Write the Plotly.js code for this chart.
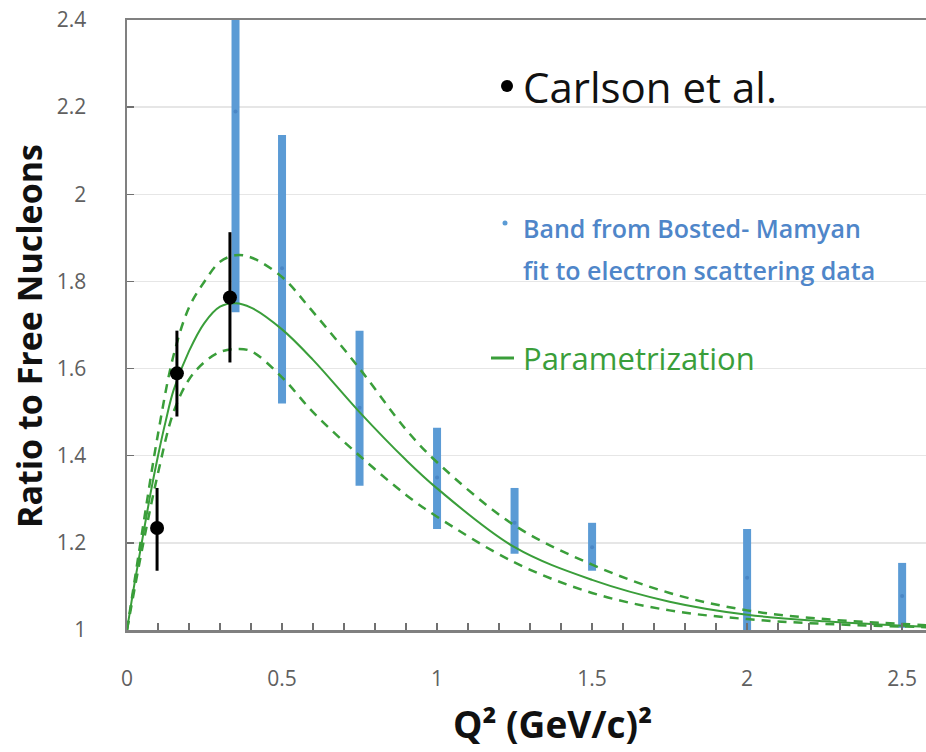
<!DOCTYPE html>
<html><head><meta charset="utf-8">
<script src="https://cdn.plot.ly/plotly-3.0.1.min.js"></script>
<style>html,body{margin:0;padding:0;background:#fff}#chart{width:926px;height:752px}</style>
</head><body><div id="chart"></div>
<script>
// Bosted-Mamyan band (blue)
const bandQ2 = [0.35, 0.5, 0.75, 1.0, 1.25, 1.5, 2.0, 2.5];
const bandMid = [2.19, 1.83, 1.51, 1.35, 1.246, 1.19, 1.12, 1.078];
const bandHigh = [2.65, 2.136, 1.687, 1.464, 1.326, 1.246, 1.232, 1.154];
const bandLow = [1.729, 1.52, 1.331, 1.232, 1.175, 1.136, 1.0, 1.005];

// Carlson et al. points
const carlsonQ2 = [0.097, 0.161, 0.332];
const carlsonY = [1.234, 1.589, 1.763];
const carlsonHigh = [1.326, 1.687, 1.913];
const carlsonLow = [1.136, 1.49, 1.614];

// Parametrization (solid) and its uncertainty (dashed)
const paramQ2 = [0, 0.025, 0.05, 0.075, 0.1, 0.125, 0.15, 0.2, 0.25, 0.3, 0.35, 0.4, 0.5, 0.6, 0.75, 0.9, 1.0, 1.25, 1.5, 1.75, 2.0, 2.25, 2.5, 2.6];
const paramY = [1, 1.11, 1.21, 1.31, 1.40, 1.48, 1.55, 1.64, 1.705, 1.742, 1.75, 1.74, 1.69, 1.62, 1.50, 1.39, 1.325, 1.19, 1.115, 1.065, 1.035, 1.02, 1.01, 1.007];
const bandQ2d = [0, 0.05, 0.1, 0.15, 0.2, 0.25, 0.3, 0.35, 0.4, 0.5, 0.6, 0.75, 0.9, 1.0, 1.25, 1.5, 1.75, 2.0, 2.25, 2.5, 2.6];
const upperY = [1, 1.23, 1.45, 1.63, 1.74, 1.80, 1.845, 1.86, 1.855, 1.81, 1.73, 1.60, 1.46, 1.385, 1.24, 1.15, 1.085, 1.045, 1.025, 1.014, 1.01];
const lowerY = [1, 1.19, 1.36, 1.50, 1.575, 1.615, 1.638, 1.645, 1.64, 1.58, 1.50, 1.40, 1.31, 1.26, 1.155, 1.085, 1.045, 1.025, 1.014, 1.008, 1.006];

const xTicks = [0, 0.5, 1, 1.5, 2, 2.5];
const xTickText = ['0', '0.5', '1', '1.5', '2', '2.5'];
const yTicks = [1, 1.2, 1.4, 1.6, 1.8, 2, 2.2, 2.4];
const yTickText = ['1', '1.2', '1.4', '1.6', '1.8', '2', '2.2', '2.4'];

const blue = '#5b9bd5';
const green = '#3a9e3a';

const traces = [
  {
    x: bandQ2, y: bandMid, type: 'scatter', mode: 'markers',
    marker: {color: '#4a86c5', size: 4},
    error_y: {type: 'data', symmetric: false,
      array: bandHigh.map((v, i) => v - bandMid[i]),
      arrayminus: bandMid.map((v, i) => v - bandLow[i]),
      color: blue, thickness: 8, width: 0},
    showlegend: false
  },
  {
    x: bandQ2d, y: upperY, type: 'scatter', mode: 'lines',
    line: {color: green, width: 2.5, dash: '9px,7px', shape: 'spline'}, showlegend: false
  },
  {
    x: bandQ2d, y: lowerY, type: 'scatter', mode: 'lines',
    line: {color: green, width: 2.5, dash: '9px,7px', shape: 'spline'}, showlegend: false
  },
  {
    x: paramQ2, y: paramY, type: 'scatter', mode: 'lines',
    line: {color: green, width: 2, shape: 'spline'}, showlegend: false
  },
  {
    x: carlsonQ2, y: carlsonY, type: 'scatter', mode: 'markers',
    marker: {color: '#000', size: 14},
    error_y: {type: 'data', symmetric: false,
      array: carlsonHigh.map((v, i) => v - carlsonY[i]),
      arrayminus: carlsonY.map((v, i) => v - carlsonLow[i]),
      color: '#000', thickness: 3, width: 0},
    showlegend: false
  }
];

const font = '"Open Sans", Lato, sans-serif';
const px = v => (v - 127) / 799;
const py = v => (630 - v) / 610;
const layout = {
  width: 926, height: 752,
  margin: {l: 127, r: 0, t: 20, b: 122},
  paper_bgcolor: '#fff', plot_bgcolor: '#fff',
  showlegend: false,
  xaxis: {
    range: [0, 2.577], tickmode: 'array', tickvals: xTicks, ticktext: xTickText,
    ticks: 'inside', ticklen: 7, tickwidth: 1.5, tickcolor: '#707070',
    minor: {dtick: 0.1, ticks: 'inside', ticklen: 7, tickwidth: 1.5, tickcolor: '#707070', showgrid: false},
    showgrid: false, zeroline: false,
    showline: true, linecolor: '#808080', linewidth: 2.5, mirror: true,
    tickfont: {family: font, size: 21, color: '#606060'},
    ticklabelstandoff: 28
  },
  yaxis: {
    range: [1, 2.4], tickmode: 'array', tickvals: yTicks, ticktext: yTickText,
    ticks: 'inside', ticklen: 7, tickwidth: 1.5, tickcolor: '#707070',
    showgrid: true, gridcolor: '#e6e6e6', gridwidth: 1.5, zeroline: false,
    showline: true, linecolor: '#808080', linewidth: 2.5,
    tickfont: {family: font, size: 21, color: '#606060'},
    ticklabelstandoff: 34
  },
  shapes: [
    {type: 'circle', xref: 'paper', yref: 'paper', xsizemode: 'pixel', ysizemode: 'pixel',
     xanchor: px(507), yanchor: py(86), x0: -6, x1: 6, y0: -6, y1: 6,
     fillcolor: '#000', line: {width: 0}},
    {type: 'circle', xref: 'paper', yref: 'paper', xsizemode: 'pixel', ysizemode: 'pixel',
     xanchor: px(505), yanchor: py(223), x0: -2.5, x1: 2.5, y0: -2.5, y1: 2.5,
     fillcolor: blue, line: {width: 0}},
    {type: 'line', xref: 'paper', yref: 'paper', x0: px(491), x1: px(514), y0: py(358), y1: py(358),
     line: {color: green, width: 3}}
  ],
  annotations: [
    {xref: 'paper', yref: 'paper', x: px(552), y: py(751), xanchor: 'center', yanchor: 'bottom',
     text: '<b>Q² (GeV/c)²</b>', showarrow: false, font: {family: font, size: 37, color: '#111'}},
    {xref: 'paper', yref: 'paper', x: px(29), y: py(336), xanchor: 'center', yanchor: 'middle', textangle: -90,
     text: '<b>Ratio to Free Nucleons</b>', showarrow: false, font: {family: font, size: 34, color: '#111'}},
    {xref: 'paper', yref: 'paper', x: px(521), y: py(87), xanchor: 'left', yanchor: 'middle',
     text: 'Carlson et al.', showarrow: false, font: {family: font, size: 42, color: '#111'}},
    {xref: 'paper', yref: 'paper', x: px(521), y: py(228), xanchor: 'left', yanchor: 'middle',
     text: 'Band from Bosted- Mamyan', showarrow: false,
     font: {family: font, size: 25, weight: 600, color: '#4f86c9'}},
    {xref: 'paper', yref: 'paper', x: px(521), y: py(270), xanchor: 'left', yanchor: 'middle',
     text: 'fit to electron scattering data', showarrow: false,
     font: {family: font, size: 25, weight: 600, color: '#4f86c9'}},
    {xref: 'paper', yref: 'paper', x: px(521), y: py(358), xanchor: 'left', yanchor: 'middle',
     text: 'Parametrization', showarrow: false, font: {family: font, size: 31, color: green}}
  ]
};

Plotly.newPlot('chart', traces, layout, {displayModeBar: false, staticPlot: true});
</script></body></html>
